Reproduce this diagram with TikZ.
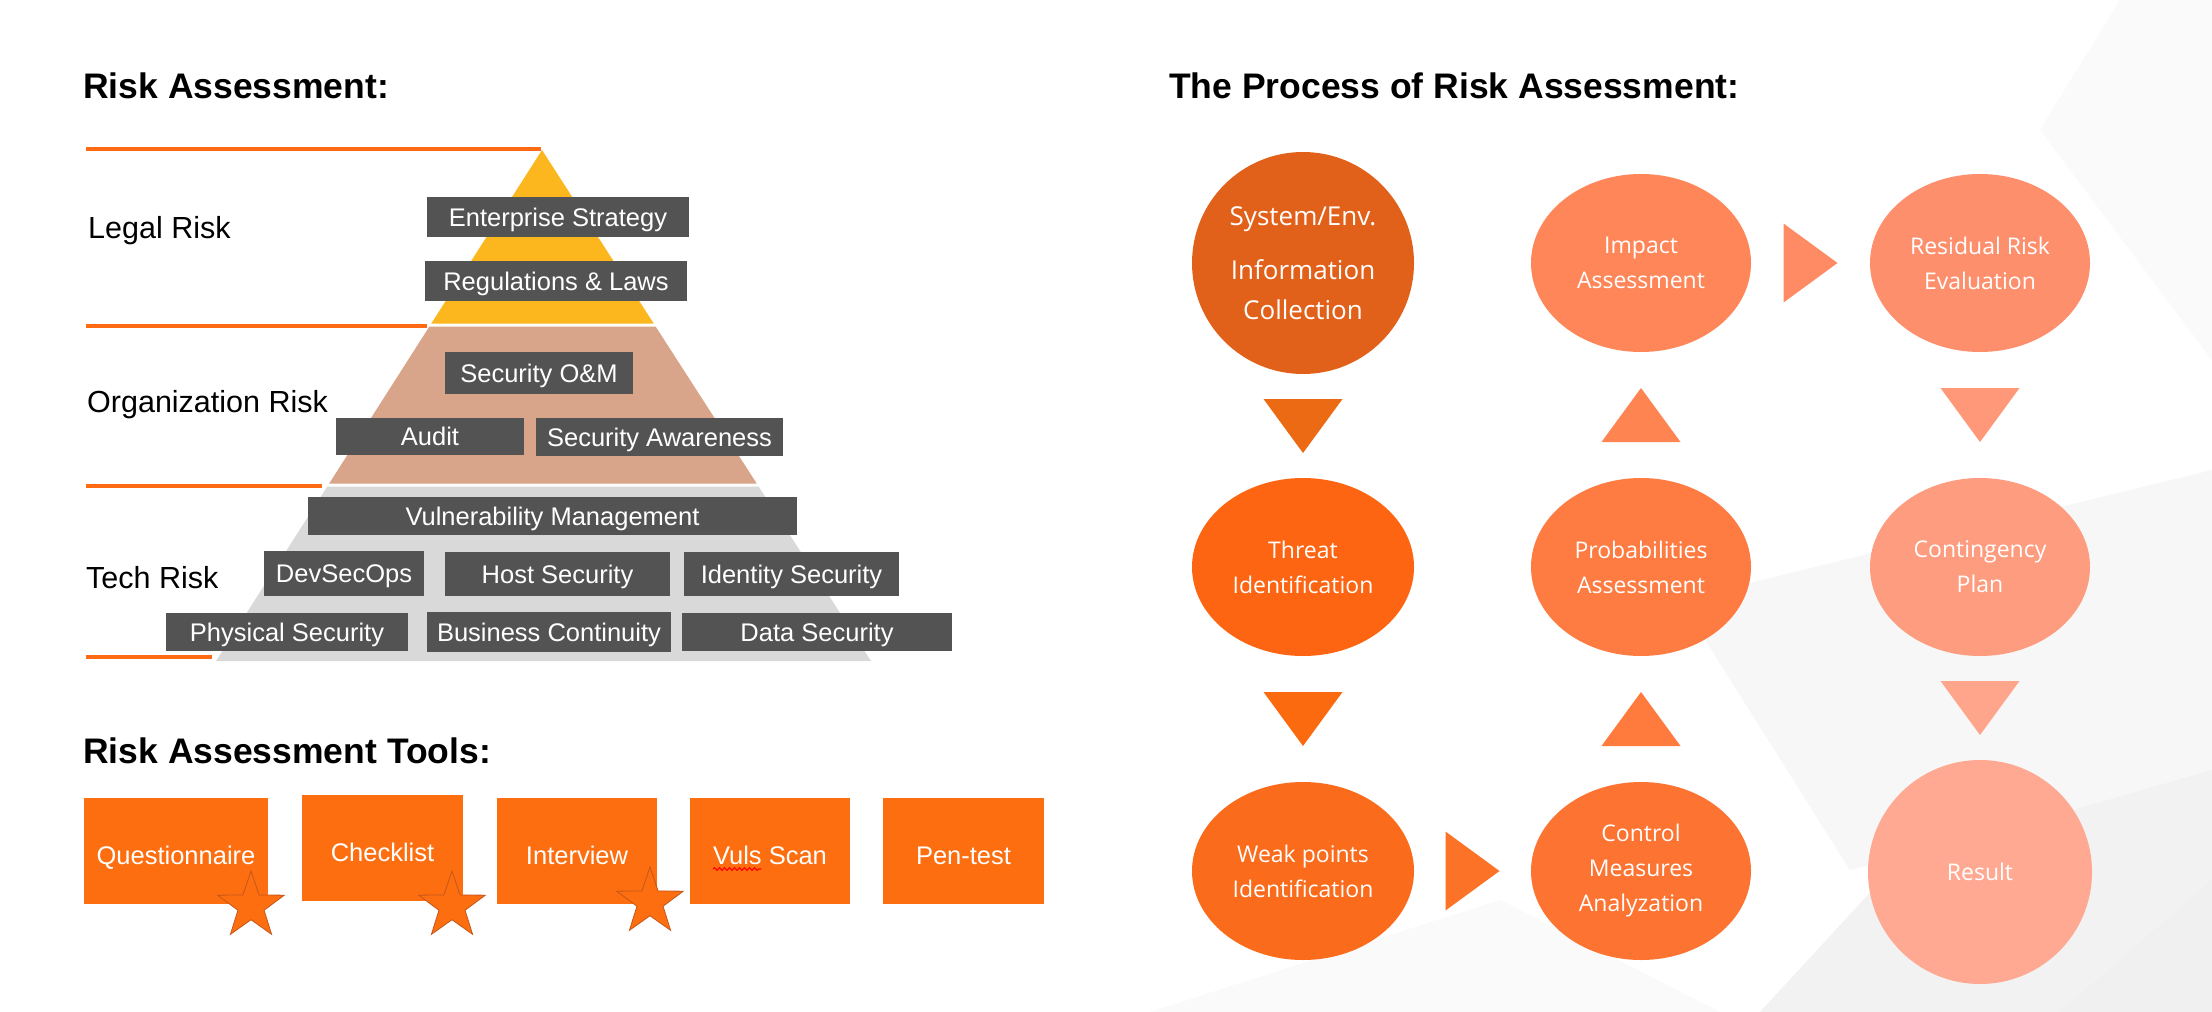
\documentclass[tikz,border=0pt]{standalone}
\usepackage{fontspec}
\setmainfont{Liberation Sans}
\newfontfamily\osfont{Open Sans}
\usetikzlibrary{shapes.geometric,calc,decorations.pathmorphing}
\definecolor{orline}{HTML}{FF6A13}
\definecolor{pyY}{HTML}{FDB71E}
\definecolor{pyT}{HTML}{D8A58A}
\definecolor{pyG}{HTML}{D9D9D9}
\definecolor{boxg}{HTML}{535353}
\definecolor{toolor}{HTML}{FD6E10}
\definecolor{stard}{HTML}{C4561A}
\definecolor{cSys}{HTML}{E2611A}
\definecolor{cThr}{HTML}{FD6512}
\definecolor{cWeak}{HTML}{FB6B1C}
\definecolor{cCtrl}{HTML}{FD7331}
\definecolor{cProb}{HTML}{FE7B42}
\definecolor{cImp}{HTML}{FE8659}
\definecolor{cRes}{HTML}{FE8F6C}
\definecolor{cCont}{HTML}{FE9C80}
\definecolor{cRsl}{HTML}{FFA892}
\definecolor{aA}{HTML}{EC6A14}
\definecolor{aB}{HTML}{FB6A0E}
\definecolor{aC}{HTML}{FC7227}
\definecolor{aD}{HTML}{FE7A3D}
\definecolor{aE}{HTML}{FE8451}
\definecolor{aF}{HTML}{FE8B63}
\definecolor{aG}{HTML}{FE9878}
\definecolor{aH}{HTML}{FFA58C}
\begin{document}
\begin{tikzpicture}[x=1pt,y=-1pt,
  title/.style={anchor=base west,inner sep=0pt,font=\bfseries\fontsize{35.5}{40}\selectfont},
  lbl/.style={anchor=base west,inner sep=0pt,font=\fontsize{30.5}{36}\selectfont},
  gbox/.style={fill=boxg,text=white,inner sep=0pt,font=\fontsize{25.5}{30}\selectfont,text height=18.3pt,text depth=0pt},
  tool/.style={fill=toolor,text=white,inner sep=0pt,minimum height=106pt,font=\fontsize{25.5}{30}\selectfont,text height=26.3pt,text depth=0pt},
  tstar/.style={star,star points=5,star point ratio=2.55,minimum size=70pt,inner sep=0pt,fill=toolor,draw=stard,line width=0.8pt},
  ell/.style={ellipse,inner sep=0pt,text=white,align=center,font=\osfont\fontsize{23}{35}\selectfont},
  oline/.style={orline,line width=3.5pt}]
% background
\fill[white] (0,0) rectangle (2212,1012);
\useasboundingbox (0,0) rectangle (2212,1012);
\fill[black!3] (1680,600) -- (2212,470) -- (2212,780) -- (1850,870) -- cycle;
\fill[black!5] (1760,1012) -- (1900,860) -- (2212,770) -- (2212,1012) -- cycle;
\fill[black!2] (2120,0) -- (2212,0) -- (2212,360) -- (2040,130) -- cycle;
\fill[black!2] (1150,1012) -- (1500,900) -- (1720,1012) -- cycle;
\fill[black!6] (2060,1012) -- (2212,880) -- (2212,1012) -- cycle;

% titles
\node[title] (t1) at (83,98) {Risk Assessment:};
\node[title] (t2) at (1169,98) {The Process of Risk Assessment:};
\node[title] (t3) at (83,763) {Risk Assessment Tools:};

% pyramid
\fill[pyY] (542,150) -- (653.7,323.5) -- (431.3,323.5) -- cycle;
\fill[pyT] (429.4,326.5) -- (655.6,326.5) -- (756.7,483.5) -- (329.2,483.5) -- cycle;
\fill[pyG] (327.3,486.5) -- (758.6,486.5) -- (871,661) -- (216,661) -- cycle;
\draw[oline] (86,149) -- (541,149);
\draw[oline] (86,326) -- (427,326);
\draw[oline] (86,486) -- (322,486);
\draw[oline] (86,657) -- (212,657);

\node[lbl] (legal) at (88,238) {Legal Risk};
\node[lbl] (org) at (87,412) {Organization Risk};
\node[lbl] (tech) at (86,588) {Tech Risk};

\node[gbox,minimum width=262pt,minimum height=40pt] (es) at (558,217) {Enterprise Strategy};
\node[gbox,minimum width=262pt,minimum height=40pt] (rl) at (556,281) {Regulations \& Laws};
\node[gbox,minimum width=188pt,minimum height=42pt] (som) at (539,373) {Security O\&M};
\node[gbox,minimum width=188pt,minimum height=37pt] (aud) at (430,436.5) {Audit};
\node[gbox,minimum width=247pt,minimum height=38pt] (sa) at (659.5,437) {Security Awareness};
\node[gbox,minimum width=489pt,minimum height=38pt] (vm) at (552.5,516) {Vulnerability Management};
\node[gbox,minimum width=160pt,minimum height=45pt] (dso) at (344,573.5) {DevSecOps};
\node[gbox,minimum width=225pt,minimum height=44pt] (hs) at (557.5,574) {Host Security};
\node[gbox,minimum width=215pt,minimum height=44pt] (ids) at (791.5,574) {Identity Security};
\node[gbox,minimum width=242pt,minimum height=38pt] (ps) at (287,632) {Physical Security};
\node[gbox,minimum width=244pt,minimum height=40pt] (bc) at (549,632) {Business Continuity};
\node[gbox,minimum width=270pt,minimum height=38pt] (ds) at (817,632) {Data Security};

% tools
\node[tool,minimum width=184pt] (q) at (176,851) {Questionnaire};
\node[tool,minimum width=161pt] (ck) at (382.5,848) {Checklist};
\node[tool,minimum width=160pt] (iv) at (577,851) {Interview};
\node[tool,minimum width=160pt] (vs) at (770,851) {Vuls Scan};
\node[tool,minimum width=161pt] (pt) at (963.5,851) {Pen-test};
\draw[red,line width=1.1pt,decorate,decoration={snake,amplitude=1.4pt,segment length=5pt}]
  ($(vs.center)+(-57,18)$) coordinate (sq1) -- ($(vs.center)+(-9,18)$) coordinate (sq2);
\node[tstar] (s1) at (251,906) {};
\node[tstar] (s2) at (452,906) {};
\node[tstar] (s3) at (650,902) {};

% process
\node[ell,fill=cSys,minimum width=222pt,minimum height=222pt,font=\osfont\fontsize{26}{40}\selectfont] (sys) at (1303,263) {System/Env.\\[14pt]Information\\Collection};
\node[ell,fill=cImp,minimum width=220pt,minimum height=178pt] (imp) at (1641,263) {Impact\\Assessment};
\node[ell,fill=cRes,minimum width=220pt,minimum height=178pt] (res) at (1980,263) {Residual Risk\\Evaluation};
\node[ell,fill=cThr,minimum width=222pt,minimum height=178pt] (thr) at (1303,567) {Threat\\Identification};
\node[ell,fill=cProb,minimum width=220pt,minimum height=178pt] (prob) at (1641,567) {Probabilities\\Assessment};
\node[ell,fill=cCont,minimum width=220pt,minimum height=178pt] (cont) at (1980,567) {Contingency\\Plan};
\node[ell,fill=cWeak,minimum width=222pt,minimum height=178pt] (weak) at (1303,871) {Weak points\\Identification};
\node[ell,fill=cCtrl,minimum width=220pt,minimum height=178pt] (ctrl) at (1641,871) {Control\\Measures\\Analyzation};
\node[ell,fill=cRsl,minimum width=224pt,minimum height=224pt] (rsl) at (1980,872) {Result};

% triangle connectors
\fill[aA] ($(sys.south)!0.5!(thr.north)$) ++(-39.5,-27) -- ++(79,0) -- ++(-39.5,54) -- cycle;
\fill[aB] ($(thr.south)!0.5!(weak.north)$) ++(-39.5,-27) -- ++(79,0) -- ++(-39.5,54) -- cycle;
\fill[aC] ($(weak.east)!0.5!(ctrl.west)$) ++(-27,-39.5) -- ++(0,79) -- ++(54,-39.5) -- cycle;
\fill[aD] ($(ctrl.north)!0.5!(prob.south)$) ++(-39.5,27) -- ++(79,0) -- ++(-39.5,-54) -- cycle;
\fill[aE] ($(prob.north)!0.5!(imp.south)$) ++(-39.5,27) -- ++(79,0) -- ++(-39.5,-54) -- cycle;
\fill[aF] ($(imp.east)!0.5!(res.west)$) ++(-27,-39.5) -- ++(0,79) -- ++(54,-39.5) -- cycle;
\fill[aG] ($(res.south)!0.5!(cont.north)$) ++(-39.5,-27) -- ++(79,0) -- ++(-39.5,54) -- cycle;
\fill[aH] ($(cont.south)!0.5!(rsl.north)$) ++(-39.5,-27) -- ++(79,0) -- ++(-39.5,54) -- cycle;
\end{tikzpicture}
\end{document}
